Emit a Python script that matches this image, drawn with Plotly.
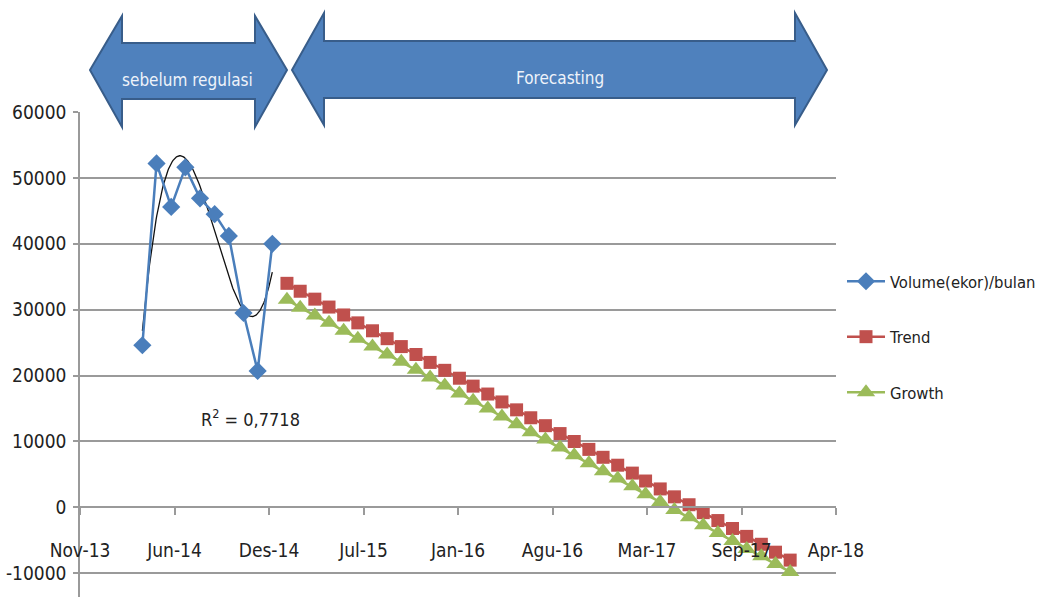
import numpy as np
import pandas as pd
import plotly.graph_objects as go

# ---------------- data ----------------
volume_months = ["2014-04-01", "2014-05-01", "2014-06-01", "2014-07-01", "2014-08-01",
                 "2014-09-01", "2014-10-01", "2014-11-01", "2014-12-01", "2015-01-01"]
volume_values = [24600, 52200, 45600, 51600, 46900, 44500, 41200, 29500, 20700, 40000]

forecast_months = pd.date_range("2015-02-01", periods=36, freq="MS")
trend_values = [34000, 32800, 31600, 30400, 29200, 28000, 26800, 25600, 24400, 23200,
                22000, 20800, 19600, 18400, 17200, 16000, 14800, 13600, 12400, 11200,
                10000, 8800, 7600, 6400, 5200, 4000, 2800, 1600, 400, -800,
                -2000, -3200, -4400, -5600, -6800, -8000]
growth_values = [31500, 30300, 29100, 28000, 26800, 25600, 24400, 23200, 22100, 20900,
                 19700, 18500, 17300, 16200, 15000, 13800, 12600, 11400, 10300, 9100,
                 7900, 6700, 5500, 4400, 3200, 2000, 800, -400, -1500, -2700,
                 -3900, -5100, -6300, -7400, -8600, -9800]

x_tick_dates = ["2013-11-20", "2014-06-08", "2014-12-25", "2015-07-13", "2016-01-29",
                "2016-08-16", "2017-03-04", "2017-09-20", "2018-04-08"]
x_tick_labels = ["Nov-13", "Jun-14", "Des-14", "Jul-15", "Jan-16",
                 "Agu-16", "Mar-17", "Sep-17", "Apr-18"]
y_tick_values = [-10000, 0, 10000, 20000, 30000, 40000, 50000, 60000]
r2_value = 0.7718
r2_text = "R<sup>2</sup> = 0,7718"
series_names = ["Volume(ekor)/bulan", "Trend", "Growth"]
arrow_labels = ["sebelum regulasi", "Forecasting"]

# ---------------- layout constants ----------------
W, H = 1053, 597
PL, PT, PW, PH = 80, 112, 756, 485
FONT = "DejaVu Sans Condensed, Liberation Sans Narrow, Arial Narrow, sans-serif"
BLUE, RED, GREEN = "#4A7EBB", "#C0504D", "#9BBB59"
GRID = "#9a9a9a"
YMIN, YMAX = -13600, 60000


def px(x):
    return (x - PL) / PW


def py(y):
    return (PT + PH - y) / PH


# ---------------- polynomial trendline ----------------
t = np.arange(1, len(volume_values) + 1, dtype=float)
v = np.array(volume_values, dtype=float)
best = None
for deg in range(2, 7):
    c = np.polyfit(t, v, deg)
    fit = np.polyval(c, t)
    r2 = 1 - np.sum((v - fit) ** 2) / np.sum((v - v.mean()) ** 2)
    if best is None or abs(r2 - r2_value) < best[0]:
        best = (abs(r2 - r2_value), c)
coef = best[1]
tt = np.linspace(1, len(volume_values), 200)
d0 = pd.Timestamp(volume_months[0])
d1 = pd.Timestamp(volume_months[-1])
step = (d1 - d0) / (len(volume_values) - 1)
trend_dates = [d0 + step * (k - 1) for k in tt]
trend_curve = np.polyval(coef, tt)

fig = go.Figure()

fig.add_trace(go.Scatter(
    x=trend_dates, y=trend_curve, mode="lines",
    line=dict(color="#111111", width=1.3), showlegend=False, hoverinfo="skip"))

fig.add_trace(go.Scatter(
    x=volume_months, y=volume_values, mode="lines+markers", name=series_names[0],
    legendgroup="a",
    line=dict(color=BLUE, width=2.5),
    marker=dict(symbol="diamond", size=14, color=BLUE)))

fig.add_trace(go.Scatter(
    x=forecast_months, y=trend_values, mode="lines+markers", name=series_names[1],
    legendgroup="b",
    line=dict(color=RED, width=2.5),
    marker=dict(symbol="square", size=13, color=RED)))

fig.add_trace(go.Scatter(
    x=forecast_months, y=growth_values, mode="lines+markers", name=series_names[2],
    legendgroup="c",
    line=dict(color=GREEN, width=2.5),
    marker=dict(symbol="triangle-up", size=16, color=GREEN)))

zero_pos = (0 - YMIN) / (YMAX - YMIN)

fig.update_layout(
    width=W, height=H,
    margin=dict(l=PL, r=W - PL - PW, t=PT, b=H - PT - PH, pad=0, autoexpand=False),
    paper_bgcolor="white", plot_bgcolor="white",
    font=dict(family=FONT, size=19, color="#222222"),
    showlegend=True,
    legend=dict(x=px(842), y=py(264), xanchor="left", yanchor="top",
                font=dict(size=16.5, color="#222222"), tracegroupgap=31,
                itemwidth=38, bgcolor="rgba(0,0,0,0)"),
    xaxis=dict(
        type="date",
        range=[x_tick_dates[0], x_tick_dates[-1]],
        tickmode="array", tickvals=x_tick_dates, ticktext=x_tick_labels,
        anchor="free", position=zero_pos,
        showline=True, linecolor=GRID, linewidth=1.5,
        ticks="outside", ticklen=7, tickcolor=GRID, tickwidth=1.5,
        ticklabelstandoff=19,
        showgrid=False, zeroline=False,
        tickfont=dict(size=19, color="#222222"),
    ),
    yaxis=dict(
        range=[YMIN, YMAX],
        tickmode="array", tickvals=y_tick_values,
        ticktext=[str(v) for v in y_tick_values],
        showline=True, linecolor=GRID, linewidth=1.5,
        ticks="outside", ticklen=5, tickcolor=GRID, tickwidth=1.5,
        ticklabelstandoff=3,
        showgrid=True, gridcolor=GRID, gridwidth=1.5,
        zeroline=False,
        tickfont=dict(size=19, color="#222222"),
    ),
)

# ---------------- block arrows ----------------
def arrow_path(x0, x1, head, ytip, yhead_top, yhead_bot, yshaft_top, yshaft_bot):
    pts = [
        (x0, ytip), (x0 + head, yhead_top), (x0 + head, yshaft_top),
        (x1 - head, yshaft_top), (x1 - head, yhead_top), (x1, ytip),
        (x1 - head, yhead_bot), (x1 - head, yshaft_bot), (x0 + head, yshaft_bot),
        (x0 + head, yhead_bot),
    ]
    return "M " + " L ".join(f"{px(a):.5f},{py(b):.5f}" for a, b in pts) + " Z"


arrows = [
    (90, 287, 32, 70, 16, 127, 43, 99, 187, 80, arrow_labels[0]),
    (292, 827, 32, 70, 13, 125, 41, 98, 560, 78, arrow_labels[1]),
]
for x0, x1, head, yt, yht, yhb, yst, ysb, tx, ty, label in arrows:
    fig.add_shape(type="path", xref="paper", yref="paper",
                  path=arrow_path(x0, x1, head, yt, yht, yhb, yst, ysb),
                  fillcolor="#4F81BD", line=dict(color="#385D8A", width=2),
                  layer="above")
    fig.add_annotation(xref="paper", yref="paper", x=px(tx), y=py(ty),
                       xanchor="center", yanchor="middle",
                       text=label, showarrow=False,
                       font=dict(family=FONT, size=17, color="#EEF3FA"))

fig.add_annotation(xref="paper", yref="paper", x=px(250), y=py(418),
                   xanchor="center", yanchor="middle",
                   text=r2_text, showarrow=False,
                   font=dict(family=FONT, size=18, color="#222222"))

fig.write_html("out.html")
